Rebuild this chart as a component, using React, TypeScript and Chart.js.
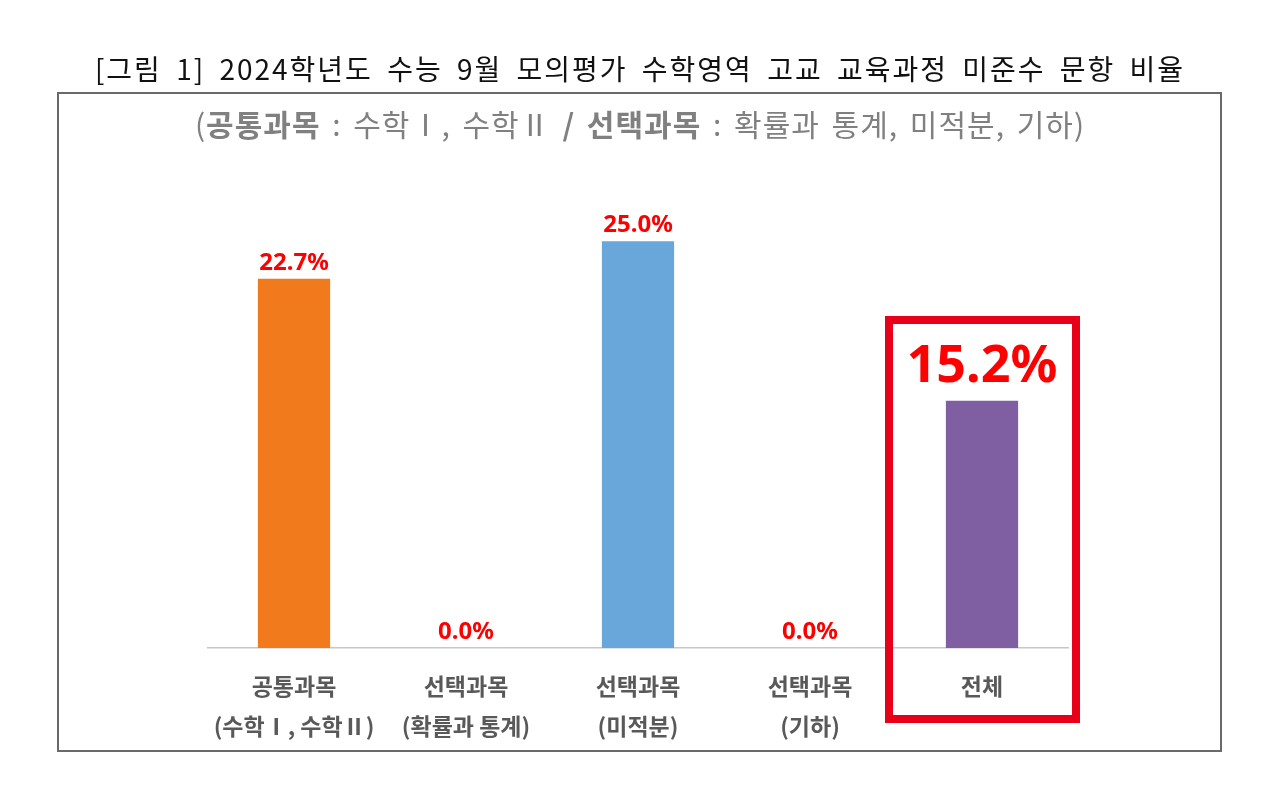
import React, { useEffect, useRef } from "react";
import { Chart, registerables } from "chart.js";

Chart.register(...registerables);

const categories: string[][] = [
  ["공통과목", "(수학Ⅰ, 수학Ⅱ)"],
  ["선택과목", "(확률과 통계)"],
  ["선택과목", "(미적분)"],
  ["선택과목", "(기하)"],
  ["전체"],
];
const values: number[] = [22.7, 0.0, 25.0, 0.0, 15.2];
const valueLabels: string[] = ["22.7%", "0.0%", "25.0%", "0.0%", "15.2%"];
const barColors: string[] = ["#F07A1C", "#FFFFFF", "#69A7DB", "#FFFFFF", "#7F5FA1"];
const highlightIndex = 4;

const titleText = "[그림 1] 2024학년도 수능 9월 모의평가 수학영역 고교 교육과정 미준수 문항 비율";

const labelPlugin = {
  id: "valueLabels",
  afterDatasetsDraw(chart: any) {
    const ctx = chart.ctx;
    const meta = chart.getDatasetMeta(0);
    ctx.save();
    ctx.fillStyle = "#FF0000";
    ctx.textAlign = "center";
    ctx.textBaseline = "alphabetic";
    meta.data.forEach((bar: any, i: number) => {
      const big = i === highlightIndex;
      ctx.font = big ? "bold 52px 'Noto Sans'" : "bold 24px 'Noto Sans'";
      const gap = big ? 19 : 9;
      ctx.fillText(valueLabels[i], bar.x, bar.y - gap);
    });
    // highlight frame around the last category
    const xs = chart.scales.x;
    const cx = xs.getPixelForValue(highlightIndex);
    const area = chart.chartArea;
    ctx.strokeStyle = "#E8001A";
    ctx.lineWidth = 8;
    ctx.strokeRect(cx - 93, area.bottom - 328, 187, 399);
    ctx.restore();
  },
};

export default function App() {
  const ref = useRef<HTMLCanvasElement | null>(null);
  useEffect(() => {
    if (!ref.current) return;
    const chart = new Chart(ref.current, {
      type: "bar",
      data: {
        labels: categories,
        datasets: [
          {
            data: values,
            backgroundColor: barColors,
            barPercentage: 0.84,
            categoryPercentage: 0.5,
          },
        ],
      },
      options: {
        responsive: false,
        animation: false,
        layout: { padding: { left: 208, right: 212, top: 160, bottom: 51 } },
        plugins: {
          legend: { display: false },
          tooltip: { enabled: false },
          title: { display: false },
        },
        scales: {
          x: {
            grid: { display: false, drawTicks: false },
            border: { display: true, color: "#C8C8C8", width: 1.5 },
            ticks: {
              color: "#595959",
              padding: 18,
              maxRotation: 0,
              autoSkip: false,
              font: { family: "'Noto Sans CJK KR'", size: 23, weight: "bold", lineHeight: "40px" },
            },
            afterFit: (scale: any) => {
              scale.height = 100;
            },
          },
          y: {
            display: false,
            min: 0,
            max: 30,
          },
        },
      },
      plugins: [labelPlugin],
    });
    return () => chart.destroy();
  }, []);

  return (
    <div style={{ position: "absolute", left: 0, top: 0, width: 1280, height: 799, background: "#fff" }}>
      <div
        style={{
          position: "absolute",
          left: 57,
          top: 92,
          width: 1165,
          height: 660,
          border: "2px solid #6A6A6A",
          boxSizing: "border-box",
        }}
      />
      <canvas ref={ref} width={1280} height={799} style={{ position: "absolute", left: 0, top: 0 }} />
      <div
        style={{
          position: "absolute",
          left: 0,
          width: 1280,
          top: 47,
          textAlign: "center",
          fontFamily: "'Noto Sans CJK KR'",
          fontSize: 28,
          lineHeight: "42px",
          color: "#111",
          letterSpacing: 2,
          wordSpacing: 6,
          whiteSpace: "nowrap",
        }}
      >
        {titleText}
      </div>
      <div
        style={{
          position: "absolute",
          left: 0,
          width: 1280,
          top: 101,
          textAlign: "center",
          fontFamily: "'Noto Sans CJK KR'",
          fontSize: 30,
          lineHeight: "44px",
          color: "#808080",
          letterSpacing: 1,
          wordSpacing: 4,
          whiteSpace: "nowrap",
        }}
      >
        (<b>공통과목</b> : 수학Ⅰ, 수학Ⅱ <b>/ 선택과목</b> : 확률과 통계, 미적분, 기하)
      </div>
    </div>
  );
}
